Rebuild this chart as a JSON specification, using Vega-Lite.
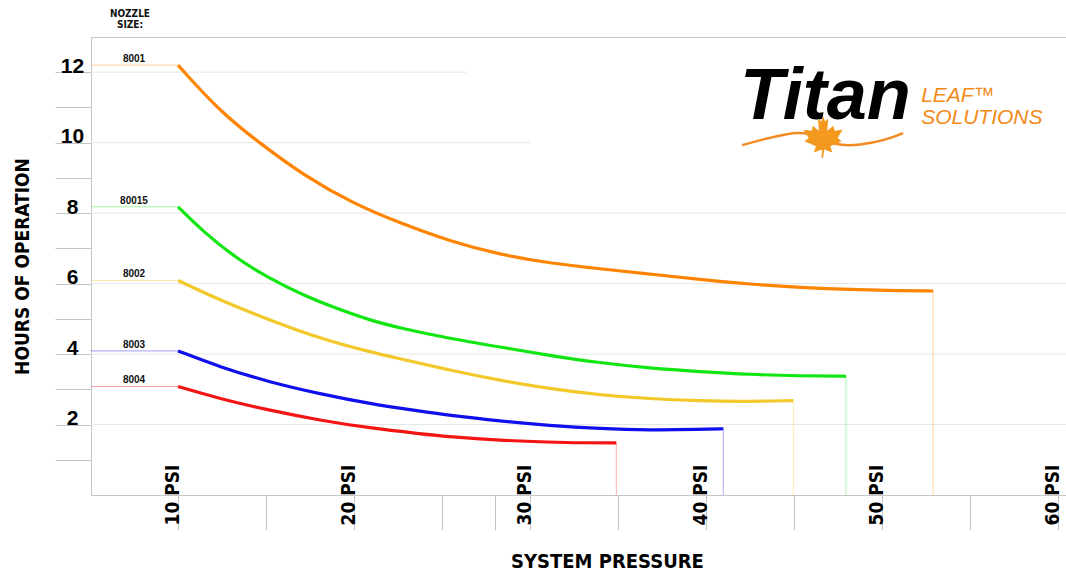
{
  "$schema": "https://vega.github.io/schema/vega-lite/v6.json",
  "width": 975,
  "height": 458,
  "autosize": {"type": "none"},
  "padding": {"left": 91, "top": 37, "right": 0, "bottom": 82},
  "background": "white",
  "config": {
    "view": {"stroke": "#c4c4c4", "strokeWidth": 1},
    "font": "'DejaVu Sans Condensed', sans-serif",
    "axis": {
      "domainColor": "#c4c4c4",
      "tickColor": "#c4c4c4",
      "labelColor": "#000000",
      "titleColor": "#000000",
      "labelFont": "'DejaVu Sans Condensed', sans-serif",
      "titleFont": "'DejaVu Sans Condensed', sans-serif",
      "labelFontWeight": "bold",
      "titleFontWeight": "bold",
      "grid": false
    }
  },
  "datasets": {
    "curves": [
      {"s": "8001", "p": 10, "h": 12.2},
      {"s": "8001", "p": 12.39, "h": 10.88},
      {"s": "8001", "p": 14.66, "h": 9.98},
      {"s": "8001", "p": 17.12, "h": 9.08},
      {"s": "8001", "p": 19.96, "h": 8.27},
      {"s": "8001", "p": 22.61, "h": 7.72},
      {"s": "8001", "p": 25.45, "h": 7.2},
      {"s": "8001", "p": 28.3, "h": 6.82},
      {"s": "8001", "p": 31.14, "h": 6.58},
      {"s": "8001", "p": 33.98, "h": 6.42},
      {"s": "8001", "p": 36.82, "h": 6.27},
      {"s": "8001", "p": 39.66, "h": 6.12},
      {"s": "8001", "p": 42.5, "h": 5.98},
      {"s": "8001", "p": 45.4, "h": 5.89},
      {"s": "8001", "p": 48.2, "h": 5.83},
      {"s": "8001", "p": 51.0, "h": 5.8},
      {"s": "8001", "p": 52.9, "h": 5.79},
      {"s": "80015", "p": 10, "h": 8.18},
      {"s": "80015", "p": 11.44, "h": 7.47},
      {"s": "80015", "p": 13.33, "h": 6.71},
      {"s": "80015", "p": 15.23, "h": 6.14},
      {"s": "80015", "p": 17.12, "h": 5.67},
      {"s": "80015", "p": 19.02, "h": 5.29},
      {"s": "80015", "p": 20.91, "h": 4.96},
      {"s": "80015", "p": 22.6, "h": 4.74},
      {"s": "80015", "p": 25.45, "h": 4.44},
      {"s": "80015", "p": 28.3, "h": 4.2},
      {"s": "80015", "p": 31.1, "h": 3.96},
      {"s": "80015", "p": 33.98, "h": 3.75},
      {"s": "80015", "p": 36.8, "h": 3.6},
      {"s": "80015", "p": 39.66, "h": 3.5},
      {"s": "80015", "p": 42.5, "h": 3.42},
      {"s": "80015", "p": 45.3, "h": 3.38},
      {"s": "80015", "p": 47.95, "h": 3.37},
      {"s": "8002", "p": 10, "h": 6.09},
      {"s": "8002", "p": 12.39, "h": 5.53},
      {"s": "8002", "p": 15.23, "h": 4.96},
      {"s": "8002", "p": 18.07, "h": 4.44},
      {"s": "8002", "p": 20.91, "h": 4.06},
      {"s": "8002", "p": 22.6, "h": 3.87},
      {"s": "8002", "p": 25.45, "h": 3.54},
      {"s": "8002", "p": 28.3, "h": 3.25},
      {"s": "8002", "p": 31.1, "h": 3.02},
      {"s": "8002", "p": 33.98, "h": 2.84},
      {"s": "8002", "p": 36.8, "h": 2.73},
      {"s": "8002", "p": 39.66, "h": 2.67},
      {"s": "8002", "p": 42.3, "h": 2.65},
      {"s": "8002", "p": 44.96, "h": 2.68},
      {"s": "8003", "p": 10, "h": 4.09},
      {"s": "8003", "p": 12.39, "h": 3.63},
      {"s": "8003", "p": 15.23, "h": 3.2},
      {"s": "8003", "p": 18.07, "h": 2.87},
      {"s": "8003", "p": 20.91, "h": 2.59},
      {"s": "8003", "p": 23.75, "h": 2.38},
      {"s": "8003", "p": 25.45, "h": 2.26},
      {"s": "8003", "p": 28.3, "h": 2.1},
      {"s": "8003", "p": 31.1, "h": 1.97},
      {"s": "8003", "p": 33.98, "h": 1.88},
      {"s": "8003", "p": 36.8, "h": 1.84},
      {"s": "8003", "p": 39.66, "h": 1.86},
      {"s": "8003", "p": 40.98, "h": 1.88},
      {"s": "8004", "p": 10, "h": 3.08},
      {"s": "8004", "p": 12.39, "h": 2.73},
      {"s": "8004", "p": 15.23, "h": 2.4},
      {"s": "8004", "p": 18.07, "h": 2.12},
      {"s": "8004", "p": 20.91, "h": 1.9},
      {"s": "8004", "p": 23.75, "h": 1.74},
      {"s": "8004", "p": 25.45, "h": 1.65},
      {"s": "8004", "p": 28.3, "h": 1.55},
      {"s": "8004", "p": 31.1, "h": 1.5},
      {"s": "8004", "p": 33.0, "h": 1.48},
      {"s": "8004", "p": 34.9, "h": 1.48}
    ],
    "ends": [
      {"s": "8001", "p0": 10, "h0": 12.2, "p1": 52.9, "h1": 5.79},
      {"s": "80015", "p0": 10, "h0": 8.18, "p1": 47.95, "h1": 3.37},
      {"s": "8002", "p0": 10, "h0": 6.09, "p1": 44.96, "h1": 2.68},
      {"s": "8003", "p0": 10, "h0": 4.09, "p1": 40.98, "h1": 1.88},
      {"s": "8004", "p0": 10, "h0": 3.08, "p1": 34.9, "h1": 1.48}
    ],
    "grid": [
      {"g": 12, "ge": 26.4},
      {"g": 10, "ge": 30.0},
      {"g": 8, "ge": 60.45},
      {"g": 6, "ge": 60.45},
      {"g": 4, "ge": 60.45},
      {"g": 2, "ge": 60.45}
    ],
    "nozzle": [
      {"t": "NOZZLE", "p": 7.27, "h": 13.66},
      {"t": "SIZE:", "p": 7.27, "h": 13.33}
    ],
    "titan": [{"t": "Titan", "p": 41.93, "h": 10.67}],
    "leaf": [
      {"t": "LEAF™", "p": 52.22, "h": 11.15},
      {"t": "SOLUTIONS", "p": 52.22, "h": 10.54}
    ],
    "swoosh": [
      {"p": 42.05, "h": 9.93},
      {"p": 43.35, "h": 10.11},
      {"p": 44.49, "h": 10.24},
      {"p": 45.8, "h": 10.33},
      {"p": 47.33, "h": 9.9},
      {"p": 48.75, "h": 9.93},
      {"p": 50.17, "h": 10.07},
      {"p": 51.19, "h": 10.27}
    ],
    "mapleleaf": [{"p": 46.65, "h": 10.16}]
  },
  "layer": [
    {
      "data": {"name": "grid"},
      "mark": {"type": "rule", "color": "#e6e6e6", "strokeWidth": 1},
      "encoding": {
        "x": {"field": "ge", "type": "quantitative", "title": "SYSTEM PRESSURE"},
        "x2": {"datum": 5.057},
        "y": {"field": "g", "type": "quantitative", "title": "HOURS OF OPERATION"}
      }
    },
    {
      "data": {"name": "ends"},
      "mark": {"type": "rule", "strokeWidth": 1, "opacity": 0.4},
      "encoding": {
        "x": {"field": "p0", "type": "quantitative", "title": "SYSTEM PRESSURE"},
        "x2": {"datum": 5.057},
        "y": {"field": "h0", "type": "quantitative", "title": "HOURS OF OPERATION"},
        "color": {"field": "s", "type": "nominal", "legend": null}
      }
    },
    {
      "data": {"name": "ends"},
      "mark": {"type": "rule", "strokeWidth": 1, "opacity": 0.35},
      "encoding": {
        "x": {"field": "p1", "type": "quantitative", "title": "SYSTEM PRESSURE"},
        "y": {"field": "h1", "type": "quantitative", "title": "HOURS OF OPERATION"},
        "y2": {"datum": 0},
        "color": {"field": "s", "type": "nominal", "legend": null}
      }
    },
    {
      "data": {"name": "curves"},
      "mark": {"type": "line", "interpolate": "basis", "strokeWidth": 3.2},
      "encoding": {
        "x": {
          "field": "p",
          "type": "quantitative",
          "title": "SYSTEM PRESSURE",
          "scale": {"domain": [5.057, 60.45], "nice": false, "zero": false},
          "axis": {
            "values": [10, 15, 20, 25, 28, 30, 35, 40, 45, 50, 55, 60],
            "labelExpr": "datum.value % 10 === 0 ? datum.value + ' PSI' : ''",
            "labelAngle": 270,
            "labelAlign": "left",
            "labelBaseline": "alphabetic",
            "labelPadding": -5,
            "tickSize": 35,
            "labelFontSize": 19,
            "labelOverlap": false,
            "labelBound": false,
            "labelFlush": false,
            "titleFontSize": 20,
            "titleX": 516,
            "titleY": 66,
            "titleAlign": "center",
            "titleBaseline": "middle"
          }
        },
        "y": {
          "field": "h",
          "type": "quantitative",
          "title": "HOURS OF OPERATION",
          "scale": {"domain": [0, 13], "nice": false, "zero": false},
          "axis": {
            "values": [1, 2, 3, 4, 5, 6, 7, 8, 9, 10, 11, 12],
            "labelExpr": "datum.value % 2 === 0 ? datum.label : ''",
            "labelFont": "'Liberation Sans', sans-serif",
            "labelAlign": "center",
            "labelBaseline": "alphabetic",
            "labelPadding": -17,
            "tickSize": 36,
            "labelFontSize": 21,
            "labelOverlap": false,
            "titleFontSize": 19,
            "titleX": -69,
            "titleY": 229,
            "titleAngle": 270,
            "titleAlign": "center",
            "titleBaseline": "middle"
          }
        },
        "color": {
          "field": "s",
          "type": "nominal",
          "legend": null,
          "scale": {
            "domain": ["8001", "80015", "8002", "8003", "8004"],
            "range": ["#ff8400", "#12e612", "#f2c82a", "#1010ee", "#f41414"]
          }
        }
      }
    },
    {
      "data": {"name": "ends"},
      "mark": {"type": "text", "font": "Liberation Sans", "fontSize": 10, "fontWeight": "bold", "color": "#111111", "baseline": "bottom", "align": "center", "dy": -1},
      "encoding": {
        "x": {"datum": 7.5, "type": "quantitative"},
        "y": {"field": "h0", "type": "quantitative", "title": "HOURS OF OPERATION"},
        "text": {"field": "s"}
      }
    },
    {
      "data": {"name": "nozzle"},
      "mark": {"type": "text", "fontSize": 10, "fontWeight": "bold", "color": "#111111", "baseline": "middle", "align": "center", "clip": false},
      "encoding": {
        "x": {"field": "p", "type": "quantitative", "title": "SYSTEM PRESSURE"},
        "y": {"field": "h", "type": "quantitative", "title": "HOURS OF OPERATION"},
        "text": {"field": "t"}
      }
    },
    {
      "data": {"name": "swoosh"},
      "mark": {
        "type": "line",
        "interpolate": "basis",
        "strokeWidth": 2.5,
        "color": "#f28a22"
      },
      "encoding": {
        "x": {"field": "p", "type": "quantitative", "title": "SYSTEM PRESSURE"},
        "y": {"field": "h", "type": "quantitative", "title": "HOURS OF OPERATION"}
      }
    },
    {
      "data": {"name": "titan"},
      "mark": {"type": "text", "font": "Liberation Sans", "fontSize": 72, "fontWeight": "bold", "fontStyle": "italic", "color": "#000000", "align": "left", "baseline": "alphabetic"},
      "encoding": {
        "x": {"field": "p", "type": "quantitative", "title": "SYSTEM PRESSURE"},
        "y": {"field": "h", "type": "quantitative", "title": "HOURS OF OPERATION"},
        "text": {"field": "t"}
      }
    },
    {
      "data": {"name": "mapleleaf"},
      "mark": {
        "type": "point",
        "filled": true,
        "size": 1700,
        "opacity": 1,
        "color": "#f39a1e",
        "shape": "M0,1 L0.05,0.6 L0.45,0.75 L0.35,0.45 L0.9,0.2 L0.7,0.05 L0.95,-0.35 L0.55,-0.3 L0.5,-0.55 L0.2,-0.3 L0.25,-0.9 L0.1,-0.75 L0,-1 L-0.1,-0.75 L-0.25,-0.9 L-0.2,-0.3 L-0.5,-0.55 L-0.55,-0.3 L-0.95,-0.35 L-0.7,0.05 L-0.9,0.2 L-0.35,0.45 L-0.45,0.75 L-0.05,0.6 L-0.08,1 Z"
      },
      "encoding": {
        "x": {"field": "p", "type": "quantitative", "title": "SYSTEM PRESSURE"},
        "y": {"field": "h", "type": "quantitative", "title": "HOURS OF OPERATION"}
      }
    },
    {
      "data": {"name": "leaf"},
      "mark": {"type": "text", "font": "Liberation Sans", "fontSize": 21, "fontStyle": "italic", "color": "#f28a1a", "align": "left", "baseline": "alphabetic"},
      "encoding": {
        "x": {"field": "p", "type": "quantitative", "title": "SYSTEM PRESSURE"},
        "y": {"field": "h", "type": "quantitative", "title": "HOURS OF OPERATION"},
        "text": {"field": "t"}
      }
    }
  ]
}
